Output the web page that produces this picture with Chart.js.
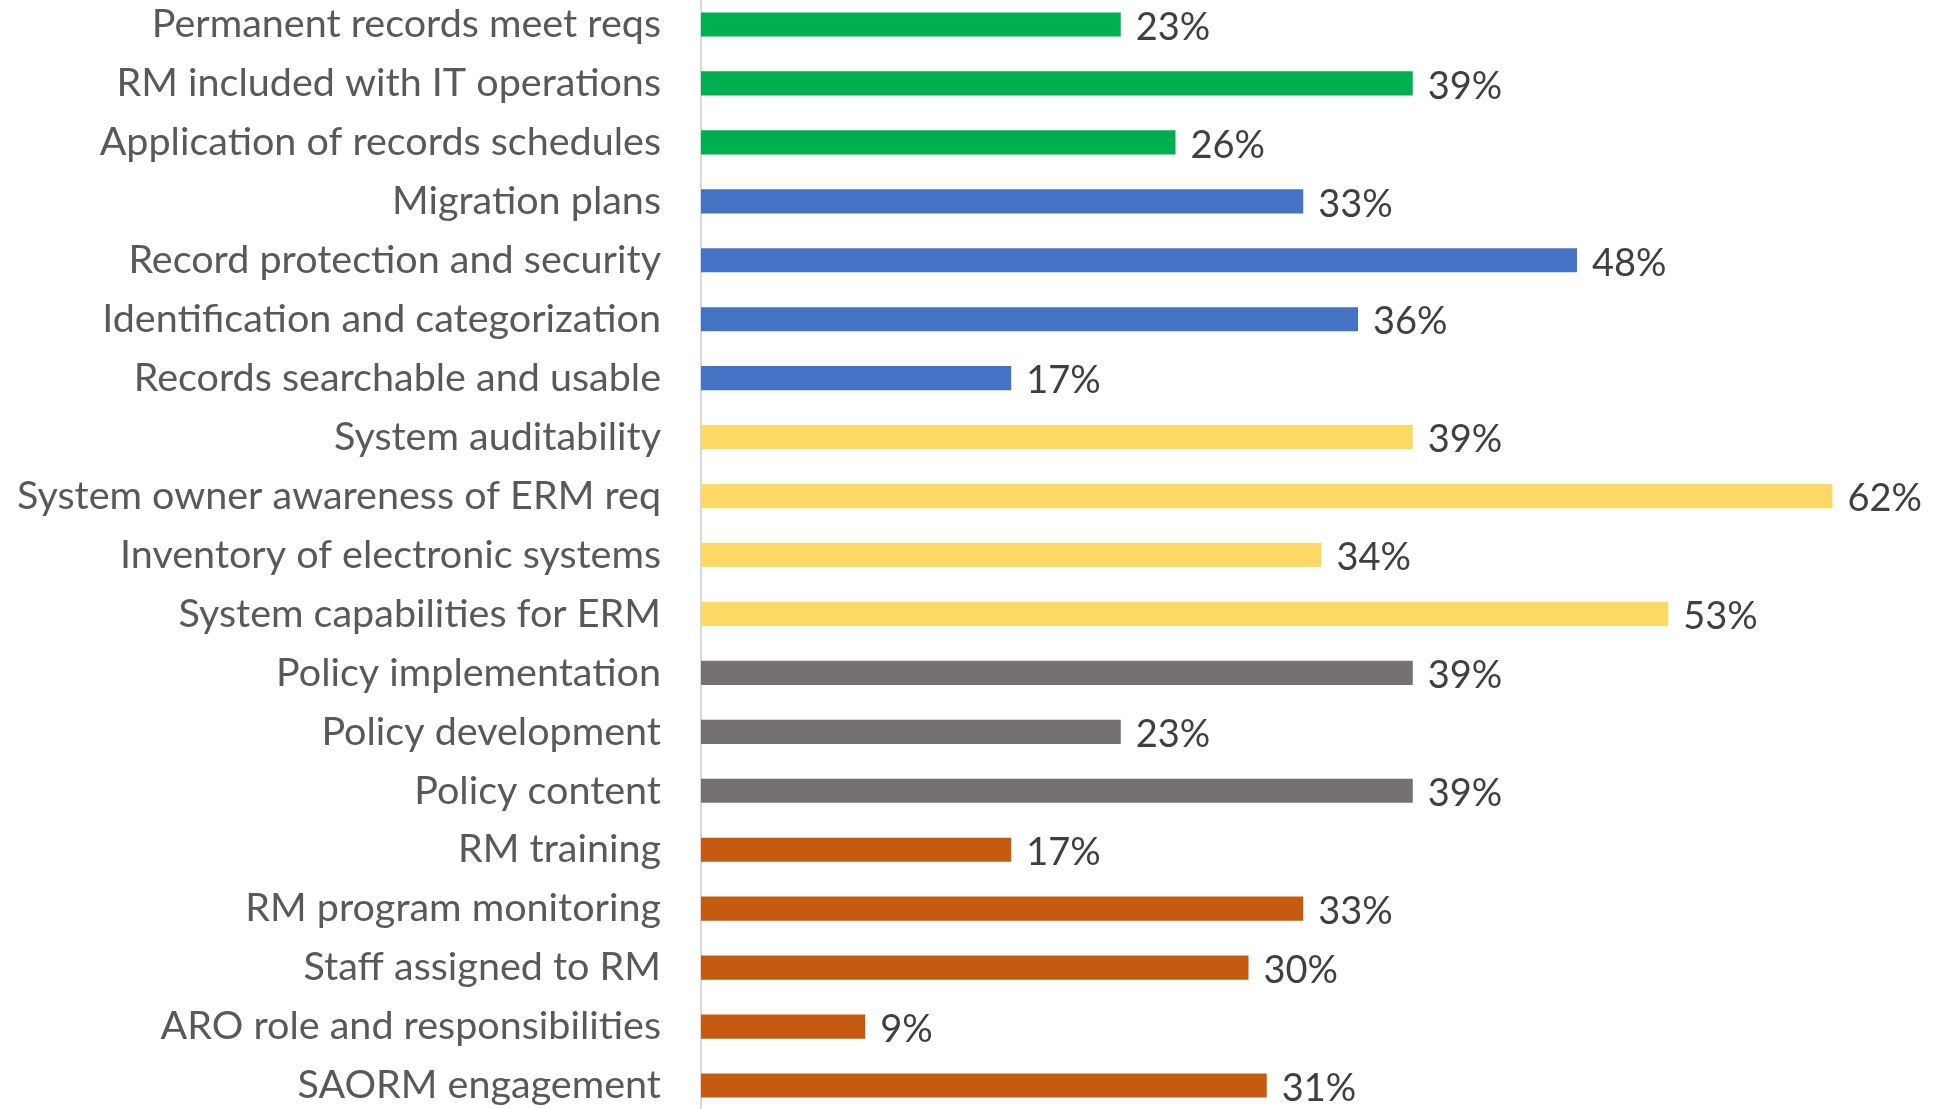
<!DOCTYPE html>
<html>
<head>
<meta charset="utf-8">
<script src="https://cdn.jsdelivr.net/npm/chart.js@4"></script>
<style>
  html, body { margin: 0; padding: 0; background: #fff; overflow: hidden; width: 1946px; height: 1109px; }
  #wrap { position: absolute; left: 0; top: -5px; width: 1946px; height: 1120px; }
</style>
</head>
<body>
<div id="wrap"><canvas id="chart" width="1946" height="1120"></canvas></div>
<script>
const categories = [
    'Permanent records meet reqs',
    'RM included with IT operations',
    'Application of records schedules',
    'Migration plans',
    'Record protection and security',
    'Identification and categorization',
    'Records searchable and usable',
    'System auditability',
    'System owner awareness of ERM req',
    'Inventory of electronic systems',
    'System capabilities for ERM',
    'Policy implementation',
    'Policy development',
    'Policy content',
    'RM training',
    'RM program monitoring',
    'Staff assigned to RM',
    'ARO role and responsibilities',
    'SAORM engagement'
];
const values = [23, 39, 26, 33, 48, 36, 17, 39, 62, 34, 53, 39, 23, 39, 17, 33, 30, 9, 31];
// group of each bar: 0 green, 1 blue, 2 yellow, 3 gray, 4 orange
const groups = [0, 0, 0, 1, 1, 1, 1, 2, 2, 2, 2, 3, 3, 3, 4, 4, 4, 4, 4];
const groupColors = ['#00B050', '#4472C4', '#FFD966', '#767171', '#C55A11'];

// value labels right of each bar
const valueLabels = {
    id: 'valueLabels',
    afterDatasetsDraw(chart) {
        const ctx = chart.ctx;
        const meta = chart.getDatasetMeta(0);
        ctx.save();
        ctx.font = '38px Lato';
        ctx.fillStyle = '#404040';
        ctx.textAlign = 'left';
        ctx.textBaseline = 'middle';
        meta.data.forEach((bar, i) => {
            ctx.fillText(values[i] + '%', bar.x + 15, bar.y + 3);
        });
        ctx.restore();
    }
};

new Chart(document.getElementById('chart').getContext('2d'), {
    type: 'bar',
    data: {
        labels: categories,
        datasets: [{
            data: values,
            backgroundColor: groups.map(g => groupColors[g]),
            categoryPercentage: 1,
            barPercentage: 0.41,
            clip: false
        }]
    },
    options: {
        indexAxis: 'y',
        responsive: false,
        animation: false,
        layout: { padding: { left: 0, right: 4, top: 0, bottom: 0 } },
        scales: {
            x: {
                display: false,
                min: 0,
                max: 68
            },
            y: {
                grid: { display: false, drawTicks: false },
                border: { display: true, color: '#D9D9D9', width: 2 },
                ticks: {
                    color: '#595959',
                    padding: 40,
                    font: { family: 'Lato', size: 39.5 }
                },
                afterFit(scale) {
                    scale.width = 701;
                    scale.paddingTop = 0;
                    scale.paddingBottom = 0;
                }
            }
        },
        plugins: {
            legend: { display: false },
            tooltip: { enabled: false }
        }
    },
    plugins: [valueLabels]
});
</script>
</body>
</html>
